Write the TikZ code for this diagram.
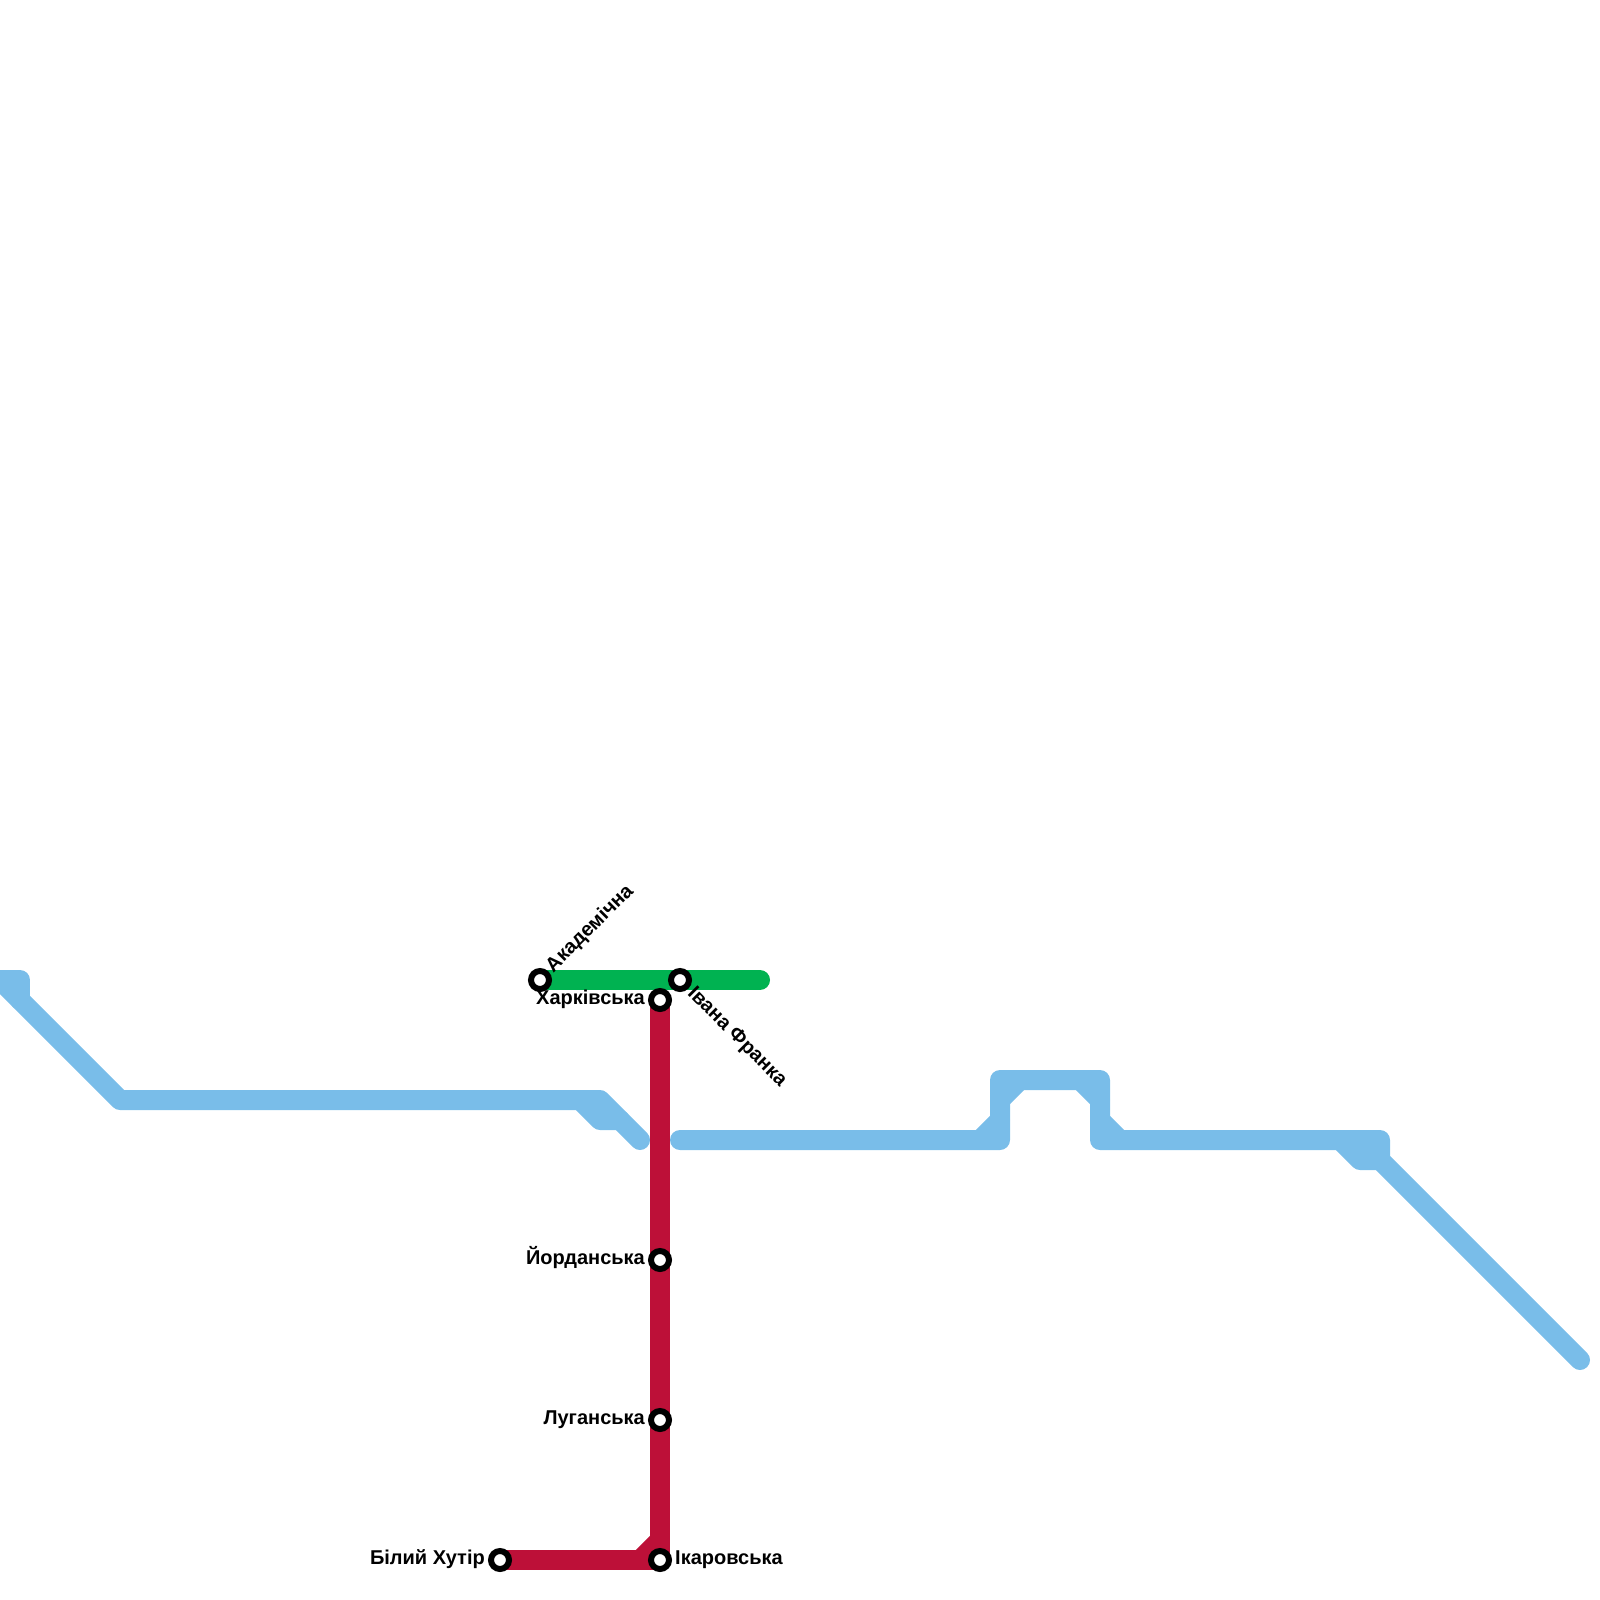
\documentclass[tikz,border=0pt]{standalone}
\usepackage{fontspec}
\setmainfont{Liberation Sans}
\usepackage{xcolor}
\usetikzlibrary{positioning,backgrounds}
\definecolor{lineblue}{HTML}{79BDE9}
\definecolor{linegreen}{HTML}{00B251}
\definecolor{linered}{HTML}{BD1038}
\begin{document}
\begin{tikzpicture}[
  x=1pt, y=-1pt,
  node distance=6pt,
  stn/.style = {circle, draw=black, fill=white, line width=6pt, inner sep=0pt, outer sep=0pt, minimum size=18pt},
  lbl/.style = {font=\bfseries\fontsize{20}{24}\selectfont, inner sep=0pt, text=black, text height=14pt, text depth=5pt},
  metro/.style = {line width=20pt, line cap=round, line join=round},
]
\useasboundingbox (0,0) rectangle (1600,1600);
% stations
\node[stn] (akad) at (540,980) {};
\node[stn] (franka) at (680,980) {};
\node[stn] (hark) at (660,1000) {};
\node[stn] (jord) at (660,1260) {};
\node[stn] (luha) at (660,1420) {};
\node[stn] (ikar) at (660,1560) {};
\node[stn] (bilyi) at (500,1560) {};
% labels
\node[lbl, left=of hark] (harkl) {Харківська};
\node[lbl, left=of jord] (jordl) {Йорданська};
\node[lbl, left=of luha] (luhal) {Луганська};
\node[lbl, left=of bilyi] (bilyil) {Білий Хутір};
\node[lbl, right=of ikar] (ikarl) {Ікаровська};
\node[lbl, rotate=45, anchor=west] (akadl) at (550,970) {Академічна};
\node[lbl, rotate=-45, anchor=west] (frankal) at (690,991) {Івана Франка};
% points of the blue line
\coordinate (w0) at (0,980);
\coordinate (w1) at (20,980);
\coordinate (w2) at (20,1000);
\coordinate (w3) at (120,1100);
\coordinate (w4) at (600,1100);
\coordinate (w5) at (640,1140);
\coordinate (w6) at (580,1100);
\coordinate (w7) at (600,1120);
\coordinate (w8) at (620,1120);
\coordinate (e0) at (680,1140);
\coordinate (e1) at (1000,1140);
\coordinate (e2) at (1000,1080);
\coordinate (e3) at (1100,1080);
\coordinate (e4) at (1100,1140);
\coordinate (e5) at (1380,1140);
\coordinate (e6) at (1380,1160);
\coordinate (e7) at (1580,1360);
\coordinate (e8) at (980,1140);
\coordinate (e9) at (1000,1120);
\coordinate (e10) at (1000,1100);
\coordinate (e11) at (1020,1080);
\coordinate (e12) at (1080,1080);
\coordinate (e13) at (1100,1100);
\coordinate (e14) at (1100,1120);
\coordinate (e15) at (1120,1140);
\coordinate (e16) at (1340,1140);
\coordinate (e17) at (1360,1160);
% other line ends
\coordinate (gend) at (760,980);
\coordinate (r1) at (640,1560);
\coordinate (r2) at (660,1540);
\begin{scope}[on background layer]
\draw[metro, lineblue] (w0) -- (w1) -- (w2);
\draw[metro, lineblue] (w0) -- (w3) -- (w4) -- (w5);
\draw[metro, lineblue] (w6) -- (w7) -- (w8);
\draw[metro, lineblue] (e0) -- (e1) -- (e2) -- (e3) -- (e4) -- (e5) -- (e6) -- (e7);
\draw[metro, lineblue] (e8) -- (e9);
\draw[metro, lineblue] (e10) -- (e11);
\draw[metro, lineblue] (e12) -- (e13);
\draw[metro, lineblue] (e14) -- (e15);
\draw[metro, lineblue] (e16) -- (e17) -- (e6);
\draw[metro, linegreen] (akad.center) -- (gend);
\draw[metro, linered, line cap=butt] (hark.center) -- (jord.center) -- (luha.center) -- (ikar.center) -- (bilyi.center);
\draw[metro, linered, line cap=butt] (r1) -- (r2);
\end{scope}
\end{tikzpicture}
\end{document}
